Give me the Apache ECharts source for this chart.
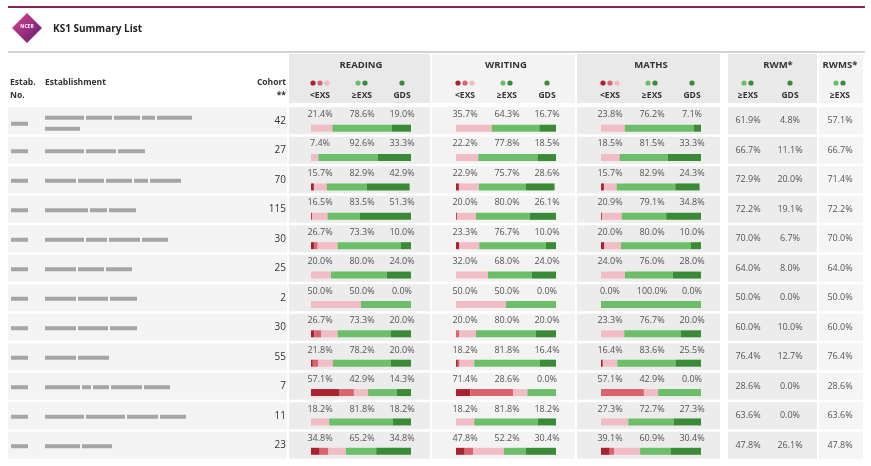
<!DOCTYPE html>
<html><head><meta charset="utf-8">
<script src="https://cdn.jsdelivr.net/npm/echarts@6/dist/echarts.min.js"></script>
<style>html,body{margin:0;padding:0;background:#fff}#c{width:871px;height:466px}</style>
</head><body><div id="c"></div><script>
// ---------------- DATA ----------------
const titleText = 'KS1 Summary List';
const subjects = ['READING', 'WRITING', 'MATHS'];
const subLabels = ['<EXS', '≥EXS', 'GDS'];
const cohort = [42, 27, 70, 115, 30, 25, 2, 30, 55, 7, 11, 23];
// redacted establishment names: word lengths per line
const nameWords = [
  [[39, 26, 26, 13, 35], [35]],
  [[39, 30, 27]],
  [[31, 26, 26, 14, 31]],
  [[43, 17, 27]],
  [[39, 21, 31, 26]],
  [[31, 26, 26]],
  [[31, 30, 27]],
  [[31, 30, 27]],
  [[31, 31]],
  [[35, 9, 16, 31, 26]],
  [[39, 39, 31, 26]],
  [[35, 30]]
];
const readBelow = [21.4, 7.4, 15.7, 16.5, 26.7, 20.0, 50.0, 26.7, 21.8, 57.1, 18.2, 34.8];
const readExs   = [78.6, 92.6, 82.9, 83.5, 73.3, 80.0, 50.0, 73.3, 78.2, 42.9, 81.8, 65.2];
const readGds   = [19.0, 33.3, 42.9, 51.3, 10.0, 24.0, 0.0, 20.0, 20.0, 14.3, 18.2, 34.8];
const readDark  = [0, 0, 2.9, 0.9, 3.3, 0, 0, 3.3, 1.8, 28.6, 0, 8.7];
const readMid   = [0, 0, 0, 0, 3.3, 0, 0, 6.7, 5.5, 14.3, 0, 8.7];

const writeBelow = [35.7, 22.2, 22.9, 20.0, 23.3, 32.0, 50.0, 20.0, 18.2, 71.4, 18.2, 47.8];
const writeExs   = [64.3, 77.8, 75.7, 80.0, 76.7, 68.0, 50.0, 80.0, 81.8, 28.6, 81.8, 52.2];
const writeGds   = [16.7, 18.5, 28.6, 26.1, 10.0, 24.0, 0.0, 20.0, 16.4, 0.0, 18.2, 30.4];
const writeDark  = [0, 0, 2.9, 0.9, 3.3, 0, 0, 0, 1.8, 14.3, 0, 8.7];
const writeMid   = [0, 0, 0, 0, 0, 0, 0, 3.3, 1.8, 42.9, 0, 8.7];

const mathsBelow = [23.8, 18.5, 15.7, 20.9, 20.0, 24.0, 0.0, 23.3, 16.4, 57.1, 27.3, 39.1];
const mathsExs   = [76.2, 81.5, 82.9, 79.1, 80.0, 76.0, 100.0, 76.7, 83.6, 42.9, 72.7, 60.9];
const mathsGds   = [7.1, 33.3, 24.3, 34.8, 10.0, 28.0, 0.0, 20.0, 25.5, 0.0, 27.3, 30.4];
const mathsDark  = [0, 0, 2.9, 0.9, 3.3, 0, 0, 0, 1.8, 0, 0, 8.7];
const mathsMid   = [0, 0, 0, 0, 0, 0, 0, 0, 0, 42.9, 0, 4.3];

const rwmExs  = [61.9, 66.7, 72.9, 72.2, 70.0, 64.0, 50.0, 60.0, 76.4, 28.6, 63.6, 47.8];
const rwmGds  = [4.8, 11.1, 20.0, 19.1, 6.7, 8.0, 0.0, 10.0, 12.7, 0.0, 0.0, 26.1];
const rwmsExs = [57.1, 66.7, 71.4, 72.2, 70.0, 64.0, 50.0, 60.0, 76.4, 28.6, 63.6, 47.8];

// ---------------- LAYOUT / STYLE ----------------
const FONT = '"Open Sans", "Noto Sans", sans-serif';
const C = {dark: '#a8222f', mid: '#d9646e', pink: '#f2bcc4', green: '#6cbf68', dkgreen: '#3b8a38'};
const subjData = [
  {below: readBelow, exs: readExs, gds: readGds, dark: readDark, mid: readMid},
  {below: writeBelow, exs: writeExs, gds: writeGds, dark: writeDark, mid: writeMid},
  {below: mathsBelow, exs: mathsExs, gds: mathsGds, dark: mathsDark, mid: mathsMid}
];
const rowIds = cohort.map((c, i) => 'r' + i);
const SUB_STEP = 145;
const colX = [320, 362, 402];            // reading value columns
const barLeft = 311;
const panels = [ // x, width, header fill, row fill
  [289, 141, '#e9e9e9', '#ececec'],
  [432, 143, '#f4f4f4', '#f3f3f3'],
  [577, 143, '#e9e9e9', '#ececec'],
  [728, 89, '#e9e9e9', '#ececec'],
  [819, 44, '#f4f4f4', '#f5f5f5']
];
const leftPanel = [8, 279, '#f4f4f4'];
const pct = v => v.toFixed(1) + '%';

function txt(text, x, y, o) {
  o = o || {};
  return {type: 'text', z: 10, style: {text: text, x: x, y: y,
    textAlign: o.align || 'center', textVerticalAlign: 'middle',
    fill: o.fill || '#555', fontSize: o.size || 9, fontWeight: o.weight || 'normal', fontFamily: FONT}};
}

function renderRow(params, api) {
  const i = api.value(1);
  const yc = api.coord([0, i])[1];
  const X = x => api.coord([x, i])[0];
  const ch = [];
  ch.push({type: 'rect', shape: {x: X(leftPanel[0]), y: yc - 13.5, width: leftPanel[1], height: 27}, style: {fill: leftPanel[2]}});
  panels.forEach(p => ch.push({type: 'rect', shape: {x: X(p[0]), y: yc - 13.5, width: p[1], height: 27}, style: {fill: p[3]}}));
  const lines = nameWords[i];
  const two = lines.length > 1;
  ch.push({type: 'rect', shape: {x: X(11), y: yc + (two ? 3 : 1) - 2, width: 17, height: 4}, style: {fill: '#a6a6a6'}});
  lines.forEach((ws, li) => {
    let x = 45;
    const ly = two ? (li === 0 ? yc - 3 : yc + 8) : yc + 1;
    ws.forEach(w => {
      ch.push({type: 'rect', shape: {x: X(x), y: ly - 2, width: w, height: 4}, style: {fill: '#a6a6a6'}});
      x += w + 2;
    });
  });
  ch.push(txt(String(cohort[i]), X(286), yc, {align: 'right', size: 10, fill: '#333'}));
  subjData.forEach((s, si) => {
    const vals = [s.below[i], s.exs[i], s.gds[i]];
    vals.forEach((v, k) => ch.push(txt(pct(v), X(colX[k] + si * SUB_STEP), yc - 6.5)));
  });
  ch.push(txt(pct(rwmExs[i]), X(748), yc));
  ch.push(txt(pct(rwmGds[i]), X(790), yc));
  ch.push(txt(pct(rwmsExs[i]), X(840), yc));
  return {type: 'group', children: ch};
}

// ---------------- GRAPHIC (header) ----------------
const graphic = [];
graphic.push({type: 'line', shape: {x1: 8, y1: 7, x2: 865, y2: 7}, style: {stroke: '#8c2456', lineWidth: 2}});
graphic.push({type: 'line', shape: {x1: 8, y1: 52, x2: 865, y2: 52}, style: {stroke: '#c4c4c4', lineWidth: 1.5}});
graphic.push({type: 'polygon', shape: {points: [[27, 13], [42, 28], [27, 43], [12, 28]]},
  style: {fill: new echarts.graphic.LinearGradient(0, 0, 1, 1, [{offset: 0, color: '#e0408a'}, {offset: 1, color: '#5b1f78'}])}});
graphic.push({type: 'text', style: {text: 'NCER', x: 27, y: 27, textAlign: 'center', textVerticalAlign: 'middle', fill: '#fff', fontSize: 5, fontWeight: 'bold', fontFamily: FONT}});
graphic.push({type: 'text', style: {text: titleText, x: 53, y: 29, textAlign: 'left', textVerticalAlign: 'middle', fill: '#222', fontSize: 10, fontWeight: 'bold', fontFamily: FONT}});
panels.forEach(p => graphic.push({type: 'rect', shape: {x: p[0], y: 54, width: p[1], height: 49}, style: {fill: p[2]}}));
const hdr = (t, x, y, al, fs) => ({type: 'text', style: {text: t, x: x, y: y, textAlign: al || 'center', textVerticalAlign: 'middle', fill: '#333', fontSize: fs || 8.5, fontWeight: 'bold', fontFamily: FONT}});
graphic.push(hdr('Estab.', 10, 83, 'left'));
graphic.push(hdr('No.', 10, 96, 'left'));
graphic.push(hdr('Establishment', 45, 83, 'left'));
graphic.push(hdr('Cohort', 286, 83, 'right'));
graphic.push(hdr('**', 286, 96, 'right'));
const dot = (x, c) => ({type: 'circle', shape: {cx: x, cy: 83, r: 2.6}, style: {fill: c}});
subjects.forEach((s, si) => {
  const o = si * SUB_STEP;
  graphic.push(hdr(s, 361 + o, 65, 'center', 9.5));
  subLabels.forEach((l, k) => graphic.push(hdr(l, colX[k] + o, 96)));
  graphic.push(dot(colX[0] + o - 7, C.dark), dot(colX[0] + o, C.mid), dot(colX[0] + o + 7, C.pink));
  graphic.push(dot(colX[1] + o - 4, C.green), dot(colX[1] + o + 3, C.dkgreen));
  graphic.push(dot(colX[2] + o, C.dkgreen));
});
graphic.push(hdr('RWM*', 778, 65, 'center', 9.5));
graphic.push(hdr('RWMS*', 840, 65, 'center', 9.5));
graphic.push(hdr(subLabels[1], 748, 96), hdr(subLabels[2], 790, 96), hdr(subLabels[1], 840, 96));
graphic.push(dot(744, C.green), dot(751, C.dkgreen), dot(790, C.dkgreen), dot(836, C.green), dot(843, C.dkgreen));

// ---------------- OPTION ----------------
const grids = [{left: 0, width: 871, top: 106, height: 354}];
const xAxes = [{type: 'value', gridIndex: 0, min: 0, max: 871, show: false}];
const yAxes = [{type: 'category', gridIndex: 0, data: rowIds, inverse: true, show: false}];
const series = [{
  type: 'custom', xAxisIndex: 0, yAxisIndex: 0, z: 1, silent: true, clip: false,
  renderItem: renderRow, data: rowIds.map((r, i) => [0, i])
}];
subjData.forEach((s, si) => {
  const g = si + 1;
  grids.push({left: barLeft + si * SUB_STEP, width: 100, top: 113.5, height: 354});
  xAxes.push({type: 'value', gridIndex: g, min: 0, max: 100, show: false});
  yAxes.push({type: 'category', gridIndex: g, data: rowIds, inverse: true, show: false});
  const pink = s.below.map((b, i) => +(b - s.dark[i] - s.mid[i]).toFixed(2));
  const exsOnly = s.exs.map((e, i) => +(e - s.gds[i]).toFixed(2));
  const parts = [[s.dark, C.dark], [s.mid, C.mid], [pink, C.pink], [exsOnly, C.green], [s.gds, C.dkgreen]];
  parts.forEach((p, k) => series.push({
    type: 'bar', xAxisIndex: g, yAxisIndex: g, stack: 'sub' + si, z: 5, barWidth: 7,
    silent: true, data: p[0], itemStyle: {color: p[1]}, animation: false
  }));
});

const chart = echarts.init(document.getElementById('c'), null, {renderer: 'canvas'});
chart.setOption({
  animation: false, backgroundColor: '#fff',
  grid: grids, xAxis: xAxes, yAxis: yAxes, series: series, graphic: graphic
});
</script></body></html>
